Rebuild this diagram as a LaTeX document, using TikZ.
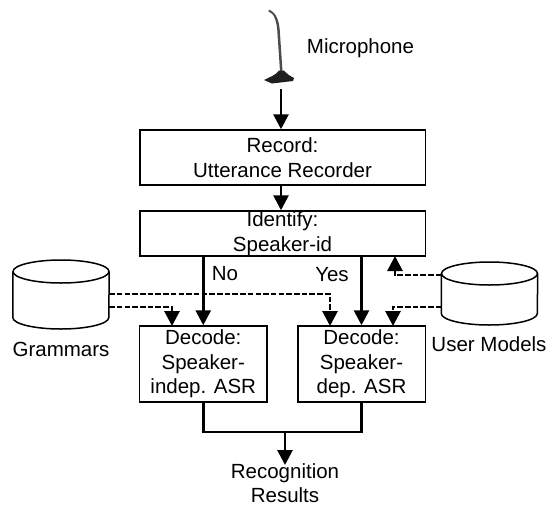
\documentclass[tikz,border=0pt]{standalone}
\usepackage{fontspec}
\setmainfont{Liberation Sans}
\usetikzlibrary{arrows.meta}
\tikzset{
  every node/.style={font=\fontsize{20.5}{24.5}\selectfont, inner sep=0pt, align=center},
  procbox/.style={draw=black, line width=1.5pt, fill=white},
  storeshell/.style={draw=black, line width=1.5pt, fill=white},
  flow/.style={line width=2.8pt, -{Triangle[length=15pt,width=15pt]}},
  feed/.style={line width=2.8pt, dash pattern=on 5.5pt off 2.2pt, -{Triangle[length=15pt,width=15pt]}},
  mergeline/.style={line width=2.8pt}
}
\begin{document}
\begin{tikzpicture}[x=1pt,y=-1pt]
\useasboundingbox (0,0) rectangle (546,507);
% microphone
\node[minimum width=34pt,minimum height=82pt] (mic) at (281,48) {};
\fill[black!70] (268.5,9.5) .. controls (276,12) and (279.5,20) .. (280,34) -- (282.5,71) -- (280,71) -- (277.5,34) .. controls (277,21) and (274,13) .. (268.5,11.5) -- cycle;
\fill[black!88] (264,80) .. controls (270,77) and (276,75) .. (279,70.5) -- (284,70.5) .. controls (287,74) and (290,76) .. (294,78) -- (293,81) -- (272,83.5) -- cycle;
\node at (360.5,48) {Microphone};
% process boxes
\node[procbox,minimum width=285.5pt,minimum height=55pt] (record) at (282.5,157.5) {Record:\\Utterance Recorder};
\node[procbox,minimum width=285.5pt,minimum height=45pt] (identify) at (282.5,233.5) {Identify:\\Speaker-id};
\node[procbox,minimum width=127.5pt,minimum height=76pt] (dec1) at (203.25,364) {Decode:\\Speaker-\\indep. ASR};
\node[procbox,minimum width=127.5pt,minimum height=76pt] (dec2) at (361.5,364) {Decode:\\Speaker-\\dep. ASR};
% stores
\node[minimum width=96pt,minimum height=69pt] (gram) at (61,294.5) {};
\draw[storeshell] (gram.west |- 0,271.5) -- (gram.west |- 0,317.5) arc[start angle=180,end angle=0,x radius=48,y radius=11.5] -- (gram.east |- 0,271.5);
\draw[storeshell] (61,271.5) ellipse[x radius=48,y radius=11.5];
\node[minimum width=96pt,minimum height=63pt] (user) at (489.5,293.5) {};
\draw[storeshell] (user.west |- 0,273.5) -- (user.west |- 0,313.5) arc[start angle=180,end angle=0,x radius=48,y radius=11.5] -- (user.east |- 0,273.5);
\draw[storeshell] (489.5,273.5) ellipse[x radius=48,y radius=11.5];
\node at (61,349) {Grammars};
\node at (489,344) {User Models};
\node at (225,274) {No};
\node at (332,275) {Yes};
% data feeds
\coordinate (g1) at (gram.east |- 0,294);
\coordinate (g2) at (gram.east |- 0,307);
\coordinate (u1) at (user.west |- 0,275);
\coordinate (u2) at (user.west |- 0,307);
\coordinate (t1) at (330,326);
\coordinate (t2) at (172,326);
\coordinate (t3) at (395,256);
\coordinate (t4) at (393,326);
\draw[feed] (g1) -| (t1);
\draw[feed] (g2) -| (t2);
\draw[feed] (u1) -| (t3);
\draw[feed] (u2) -| (t4);
% main flow
\draw[flow] (mic.south) -- (mic.south |- record.north);
\draw[flow] (record.south -| mic.south) -- (identify.north -| mic.south);
\draw[flow] (identify.south -| dec1.north) -- (dec1.north);
\draw[flow] (identify.south -| dec2.north) -- (dec2.north);
% results
\node (res) at (285,483) {Recognition\\[-0.5pt]Results};
\coordinate (merge) at (285,432);
\coordinate (resin) at (285,465);
\draw[mergeline] (dec1.south) |- (merge) -| (dec2.south);
\draw[flow] (merge) -- (resin);
\end{tikzpicture}
\end{document}
